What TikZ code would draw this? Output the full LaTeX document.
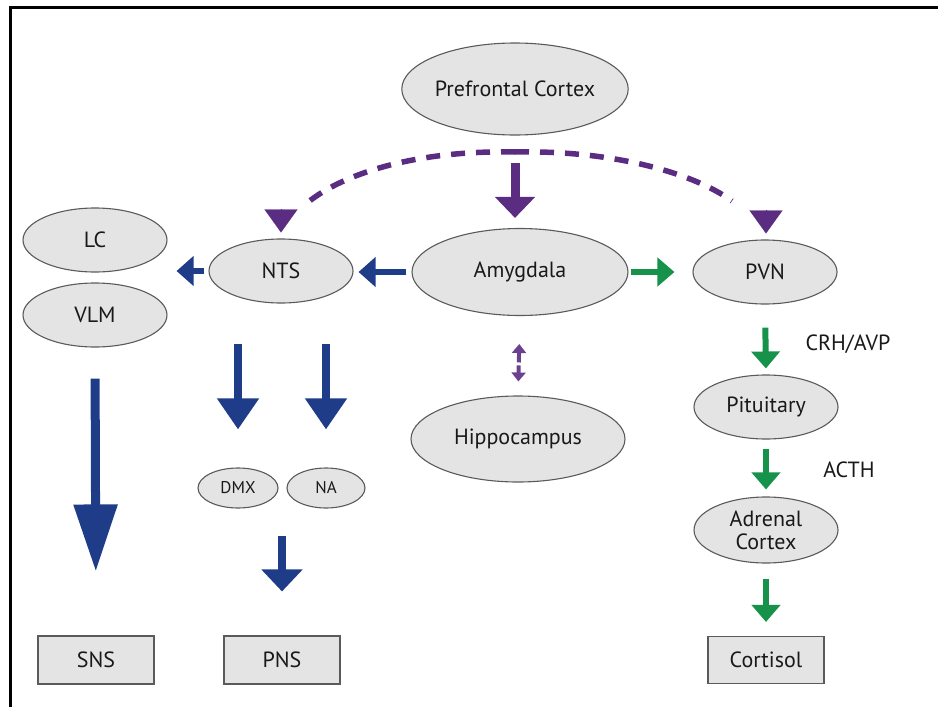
\documentclass[tikz,border=0pt]{standalone}
\usepackage{fontspec}
\setmainfont{PT Sans}
\usetikzlibrary{shapes.geometric, positioning, arrows.meta}
\definecolor{stressblue}{HTML}{1F3C88}
\definecolor{stresspurple}{HTML}{5A2C82}
\definecolor{stressgreen}{HTML}{16924A}
\definecolor{boxgray}{HTML}{E4E4E4}
\definecolor{edgegray}{HTML}{5A5A5A}

\tikzset{
    region/.style={ellipse, draw=edgegray, fill=boxgray, line width=1.1pt, inner sep=0pt, align=center, font=\fontsize{22}{23}\selectfont, text=black!90},
    smallregion/.style={region, font=\fontsize{17}{19}\selectfont},
    outbox/.style={rectangle, draw=edgegray, fill=boxgray, line width=1.1pt, minimum width=116pt, minimum height=48pt, font=\fontsize{22}{24}\selectfont, text=black!90},
    hormone/.style={font=\fontsize{22}{24}\selectfont, text=black!90},
    bigblue/.style={draw=stressblue, line width=8pt, -{Triangle[width=40pt,length=31pt]}},
    sideblue/.style={draw=stressblue, line width=6pt, -{Triangle[width=29pt,length=17pt]}},
    sidegreen/.style={draw=stressgreen, line width=6pt, -{Triangle[width=28pt,length=17pt]}},
    bigpurple/.style={draw=stresspurple, line width=9pt, -{Triangle[width=39pt,length=21pt]}},
    dashpurple/.style={draw=stresspurple, line width=5.5pt, dash pattern=on 14pt off 11pt},
    purplehead/.style={draw=stresspurple, line width=0.1pt, -{Triangle[width=33pt,length=23pt]}},
    twoway/.style={draw=stresspurple!90, line width=4pt, {Triangle[width=14pt,length=9pt]}-{Triangle[width=14pt,length=9pt]}, dash pattern=on 10pt off 3pt on 30pt}
}

\begin{document}
\begin{tikzpicture}[x=1pt, y=-1pt]
    \useasboundingbox (0,0) rectangle (938,707);
    \draw[line width=3pt] (10,707) -- (10,7) -- (938,7);

    \node[region, minimum width=226pt, minimum height=92pt] (pfc) at (515,89) {Prefrontal Cortex};
    \node[region, minimum width=216pt, minimum height=87pt] (amyg) at (520,272) {Amygdala};
    \node[region, minimum width=144pt, minimum height=64pt] (nts) at (281,271) {NTS};
    \node[region, minimum width=144pt, minimum height=64pt] (lc) at (95,240) {LC};
    \node[region, minimum width=144pt, minimum height=64pt] (vlm) at (95,315) {VLM};
    \node[region, minimum width=144pt, minimum height=64pt] (pvn) at (765,272) {PVN};
    \node[region, minimum width=214pt, minimum height=86pt] (hippo) at (518,439) {Hippocampus};
    \node[smallregion, minimum width=80pt, minimum height=40pt] (dmx) at (238,488) {DMX};
    \node[smallregion, minimum width=78pt, minimum height=40pt] (na) at (326,488) {NA};
    \node[region, minimum width=144pt, minimum height=64pt] (pit) at (766,407) {Pituitary};
    \node[region, minimum width=144pt, minimum height=66pt] (adrenal) at (766,530) {Adrenal\\Cortex};

    \node[outbox] (sns) at (96,660) {SNS};
    \node[outbox] (pns) at (282,660) {PNS};
    \node[outbox, minimum height=47pt] (cortisol) at (766,660) {Cortisol};

    \node[hormone] (crh) at (848,344) {CRH/AVP};
    \node[hormone] (acth) at (849,470) {ACTH};

    \coordinate (fork) at (515,152);
    \coordinate (ntsin) at (307,203);
    \coordinate (pvnin) at (732,201);
    \coordinate (ntshead) at (281,208);
    \coordinate (pvnhead) at (766,208);

    \draw[dashpurple] (fork) .. controls (420,150) and (345,172) .. (ntsin);
    \draw[dashpurple] (fork) .. controls (610,150) and (692,172) .. (pvnin);
    \draw[purplehead, shorten <=2pt, shorten >=6pt] (ntshead) -- (nts.north);
    \draw[purplehead, shorten <=2pt, shorten >=6pt] (pvnhead) -- (pvnhead |- pvn.north);

    \draw[bigpurple, shorten <=27pt, shorten >=10pt] (pfc.south) -- (pfc.south |- amyg.north);
    \draw[sideblue, shorten <=5pt, shorten >=5pt] (amyg.west) -- (amyg.west -| nts.east);
    \draw[sideblue, shorten <=4pt, shorten >=9pt] (nts.west) -- (nts.west -| lc.east);
    \draw[sidegreen, shorten <=2pt, shorten >=18pt] (amyg.east) -- (amyg.east -| pvn.west);
    \draw[twoway, shorten <=28pt, shorten >=14pt] (amyg.south) -- (hippo.north);

    \draw[bigblue, shorten <=40pt, shorten >=38pt] (dmx.north |- nts.south) -- (dmx.north);
    \draw[bigblue, shorten <=40pt, shorten >=38pt] (na.north |- nts.south) -- (na.north);
    \draw[draw=stressblue, line width=8pt, -{Triangle[width=40pt,length=22pt]}, shorten <=27pt, shorten >=44pt] (pns.north |- dmx.south) -- (pns.north);
    \draw[draw=stressblue, line width=9pt, -{Triangle[width=42pt,length=67pt]}, shorten <=31pt, shorten >=64pt] (vlm.south) -- (sns.north);

    \draw[sidegreen, shorten <=23pt, shorten >=6pt] (pvn.south) -- (pit.north);
    \draw[sidegreen, shorten <=9pt, shorten >=7pt] (pit.south) -- (adrenal.north);
    \draw[sidegreen, shorten <=15pt, shorten >=14pt] (adrenal.south) -- (cortisol.north);
\end{tikzpicture}
\end{document}
